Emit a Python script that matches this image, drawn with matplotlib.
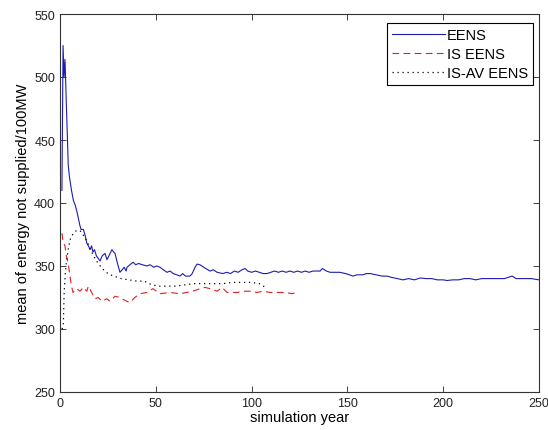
import matplotlib
matplotlib.use("Agg")
import matplotlib.pyplot as plt

# EENS (crude Monte Carlo)
eens_year = [1, 1.6, 2.1, 2.6, 3.2, 3.8, 4.3, 5, 6, 7, 8, 9, 10.4, 11, 12.2, 13, 14, 14.8,
             15.7, 16.5, 17.2, 18, 19, 20, 20.9, 22, 23.5, 24.5, 25.5, 27.1, 28, 28.7, 30,
             31.3, 32.5, 33.5, 34.5, 35, 36.5, 38.1, 39.5, 41, 43, 45.4, 47, 49, 50.5, 52.2,
             54, 55.8, 57.5, 59, 61, 62.6, 64, 65.5, 67.8, 69, 70.5, 71.5, 73, 75, 78.3, 80,
             82, 85, 87, 89, 91, 93, 95, 96.6, 98, 100, 102, 104, 106, 108, 110, 112, 114,
             116, 118, 120, 122, 124, 126, 128, 130, 132, 134, 135.7, 137, 139, 141, 143,
             146, 149, 151, 153, 155, 158, 160, 162, 165, 168, 170.7, 173, 176, 179, 182,
             185, 188, 191, 194, 197, 200, 202, 205, 208, 211, 214, 217, 220, 224, 228, 232,
             234, 236, 238, 242, 246, 250]
eens_val = [410, 525, 500, 514, 485, 455, 430, 420, 410, 402, 398, 392, 382, 379, 379, 375,
            368, 366, 363, 366, 361, 363, 358, 356, 354, 358, 360, 355, 358, 363, 361, 360,
            352, 345, 347, 349, 346, 349, 351, 353, 351, 352, 351, 350, 351, 349, 350, 349,
            347, 345, 346, 344, 343, 342, 344, 342, 342, 344, 349, 351.5, 351, 349, 346, 347,
            345, 344, 345, 344, 346, 345, 347, 348, 346, 345, 346, 345, 344, 344, 345, 346,
            345, 346, 345, 346, 345, 346, 345, 346, 345, 346, 346, 346, 348, 346, 345, 345,
            345, 344, 343, 342, 343, 343, 344, 344, 343, 342, 342, 341, 340, 339, 340, 339,
            340.5, 340, 340, 339, 339, 338.5, 339, 339, 340, 340, 339, 340, 340, 340, 340,
            341, 342, 340, 340, 340, 339]

# IS EENS (importance sampling)
is_year = [1, 1.6, 2.6, 3.3, 4.2, 5.2, 6, 6.8, 8.6, 10.4, 12.2, 14, 14.8, 16.5, 18.3, 20,
           21.8, 24.4, 26.1, 28.7, 31.3, 34.8, 36.5, 39, 41.8, 45.4, 48.5, 52.2, 57.4, 62.6,
           69.4, 73, 75.7, 78.3, 82, 84.6, 87.2, 92.4, 96, 99, 102.8, 106, 109.6, 114, 118,
           121, 123.7]
is_val = [376, 369, 366, 358, 353, 342, 334, 329, 332, 330, 333, 330, 334, 329, 324, 325,
          322, 324, 322, 326, 325, 322, 321, 325, 328, 329, 332, 328, 329, 328, 330, 332,
          333, 332, 330, 333, 329, 329, 330, 330, 329, 330, 329, 329, 329, 328, 329]

# IS-AV EENS (importance sampling + antithetic variates)
isav_year = [1, 1.7, 2.2, 2.8, 3.5, 4.5, 5.5, 7, 8.5, 10.5, 12, 14, 16, 17.5, 19.5, 22, 25,
             28, 32, 36, 40, 44, 48, 52, 56, 60, 65, 70, 75, 80, 85, 90, 95, 100, 104, 106,
             108]
isav_val = [300, 302, 330, 345, 355, 365, 372, 376, 378, 378, 375, 370, 363, 358, 353, 348,
            344, 342, 340, 339, 338, 338, 335, 334, 334, 334, 335, 336, 336, 336, 336, 337,
            337, 337, 336, 334, 333]

plt.rcParams['font.family'] = ['Liberation Sans', 'DejaVu Sans']
plt.rcParams['font.size'] = 9

fig = plt.figure(figsize=(5.48, 4.31), dpi=100)
ax = fig.add_axes([60/548, 38/431, 479/548, 378/431])

ax.plot(eens_year, eens_val, color='#1c1cb4', lw=0.8, label='EENS')
ax.plot(is_year, is_val, color='#dd2020', lw=0.8, ls=(0, (6, 4)), label='IS EENS')
ax.plot(isav_year, isav_val, color='black', lw=0.9, ls=(0, (1, 3)), label='IS-AV EENS')

ax.set_xlim(0, 250)
ax.set_ylim(250, 550)
ax.set_xticks([0, 50, 100, 150, 200, 250])
ax.set_yticks([250, 300, 350, 400, 450, 500, 550])
ax.tick_params(direction='in', length=4, width=0.6, top=True, right=True, pad=3.5,
               colors='#222222')
for s in ax.spines.values():
    s.set_linewidth(0.8)
    s.set_color('#333333')

ax.set_xlabel('simulation year', fontsize=10.5, labelpad=1)
ax.set_ylabel('mean of energy not supplied/100MW', fontsize=10.5, labelpad=3)

leg = ax.legend(loc='upper right', bbox_to_anchor=(0.988, 0.977), borderaxespad=0,
                fancybox=False, edgecolor='black', framealpha=1, fontsize=10.5,
                handlelength=3.6, handletextpad=0.15, labelspacing=0.35, borderpad=0.35)
leg.get_frame().set_linewidth(0.8)

fig.savefig('out.png', dpi=100)
